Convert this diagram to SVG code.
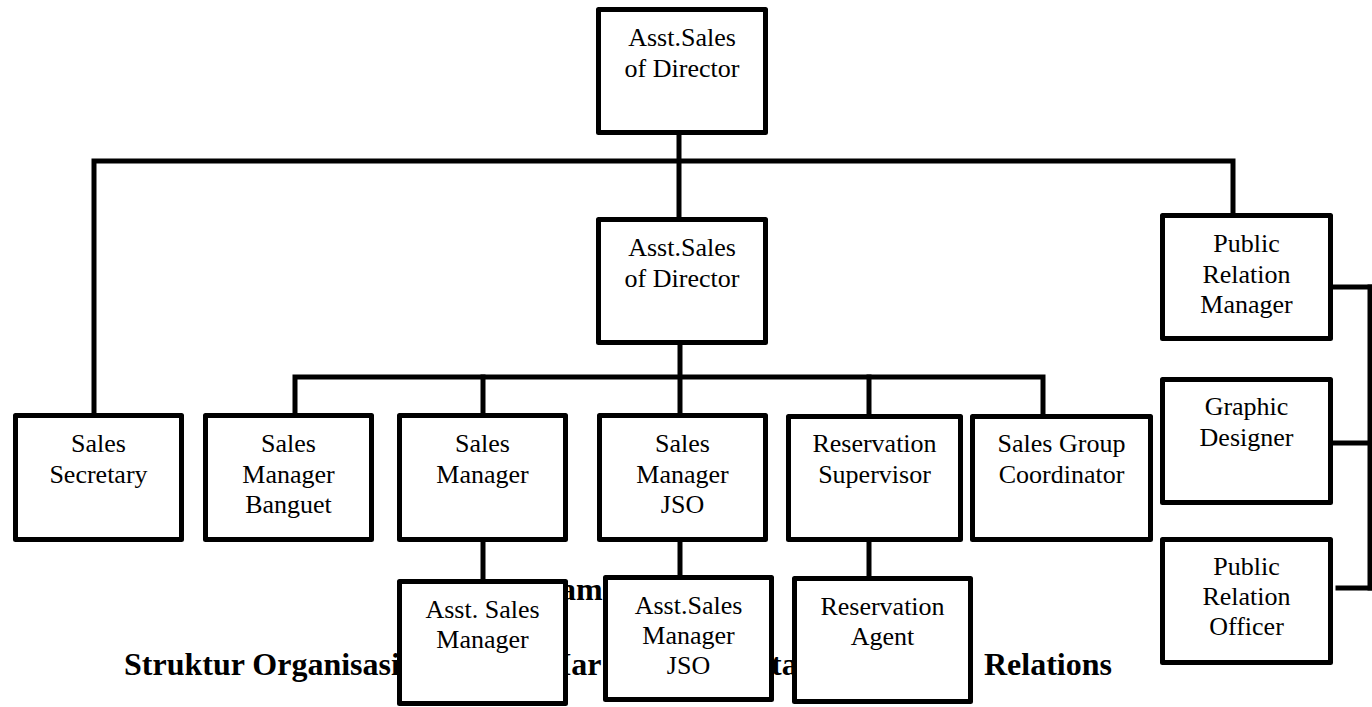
<svg xmlns="http://www.w3.org/2000/svg" width="1372" height="707" viewBox="0 0 1372 707">
<style>
.box{fill:#fff;stroke:#000;stroke-width:5;stroke-linejoin:round}
.lbl{font-family:'Liberation Serif','Times New Roman',Times,'DejaVu Serif',serif;font-size:26px;fill:#000;text-anchor:middle}
.cap{font-family:'Liberation Serif','Times New Roman',Times,'DejaVu Serif',serif;font-size:32px;font-weight:bold;fill:#000}
.con{fill:none;stroke:#000;stroke-width:5;stroke-linecap:square}
</style>
<rect width="1372" height="707" fill="#fff"/>
<g id="caption">
<text class="cap" x="560" y="600">am</text>
<text class="cap" x="124" y="675">Struktur Organisasi</text>
<text class="cap" x="541" y="675">Mar</text>
<text class="cap" x="771" y="675">ta</text>
<text class="cap" x="984" y="675">Relations</text>
</g>
<g id="connectors">
<path class="con" d="M679,135 V217"/>
<path class="con" d="M94,413 V161 H1233 V213"/>
<path class="con" d="M680,345 V413"/>
<path class="con" d="M295,413 V377 H1043 V413"/>
<path class="con" d="M483,377 V413"/>
<path class="con" d="M869,377 V413"/>
<path class="con" d="M483,542 V579"/>
<path class="con" d="M680,542 V575"/>
<path class="con" d="M869,542 V576"/>
<path class="con" d="M1335,287 H1375"/>
<path class="con" d="M1335,443 H1375"/>
<path class="con" d="M1338,588 H1375"/>
<path class="con" d="M1370,287 V588"/>
</g>
<g id="n-top"><rect class="box" x="598.5" y="9.5" width="167" height="123"/><text class="lbl" x="682" y="46">Asst.Sales</text><text class="lbl" x="682" y="77">of Director</text></g>
<g id="n-mid"><rect class="box" x="598.5" y="219.5" width="167" height="123"/><text class="lbl" x="682" y="256">Asst.Sales</text><text class="lbl" x="682" y="287">of Director</text></g>
<g id="n-secretary"><rect class="box" x="15.5" y="415.5" width="166" height="124"/><text class="lbl" x="98.5" y="452">Sales</text><text class="lbl" x="98.5" y="482.5">Secretary</text></g>
<g id="n-banguet"><rect class="box" x="205.5" y="415.5" width="166" height="124"/><text class="lbl" x="288.5" y="452">Sales</text><text class="lbl" x="288.5" y="482.5">Manager</text><text class="lbl" x="288.5" y="513">Banguet</text></g>
<g id="n-salesmgr"><rect class="box" x="399.5" y="415.5" width="166" height="124"/><text class="lbl" x="482.5" y="452">Sales</text><text class="lbl" x="482.5" y="482.5">Manager</text></g>
<g id="n-jso"><rect class="box" x="599.5" y="415.5" width="166" height="124"/><text class="lbl" x="682.5" y="452">Sales</text><text class="lbl" x="682.5" y="482.5">Manager</text><text class="lbl" x="682.5" y="513">JSO</text></g>
<g id="n-ressup"><rect class="box" x="788.5" y="416.5" width="172" height="123"/><text class="lbl" x="874.5" y="452">Reservation</text><text class="lbl" x="874.5" y="482.5">Supervisor</text></g>
<g id="n-coord"><rect class="box" x="972.5" y="416.5" width="178" height="123"/><text class="lbl" x="1061.5" y="452">Sales Group</text><text class="lbl" x="1061.5" y="482.5">Coordinator</text></g>
<g id="n-prmgr"><rect class="box" x="1162.5" y="215.5" width="168" height="123"/><text class="lbl" x="1246.5" y="252">Public</text><text class="lbl" x="1246.5" y="282.5">Relation</text><text class="lbl" x="1246.5" y="313">Manager</text></g>
<g id="n-graphic"><rect class="box" x="1162.5" y="379.5" width="168" height="123"/><text class="lbl" x="1246.5" y="415">Graphic</text><text class="lbl" x="1246.5" y="445.5">Designer</text></g>
<g id="n-profficer"><rect class="box" x="1162.5" y="539.5" width="168" height="123"/><text class="lbl" x="1246.5" y="575">Public</text><text class="lbl" x="1246.5" y="605">Relation</text><text class="lbl" x="1246.5" y="635">Officer</text></g>
<g id="n-asstmgr"><rect class="box" x="399.5" y="581.5" width="166" height="122"/><text class="lbl" x="482.5" y="618">Asst. Sales</text><text class="lbl" x="482.5" y="648">Manager</text></g>
<g id="n-asstjso"><rect class="box" x="605.5" y="577.5" width="166" height="122"/><text class="lbl" x="688.5" y="614">Asst.Sales</text><text class="lbl" x="688.5" y="644">Manager</text><text class="lbl" x="688.5" y="674">JSO</text></g>
<g id="n-agent"><rect class="box" x="794.5" y="578.5" width="176" height="123"/><text class="lbl" x="882.5" y="615">Reservation</text><text class="lbl" x="882.5" y="645">Agent</text></g>
</svg>
